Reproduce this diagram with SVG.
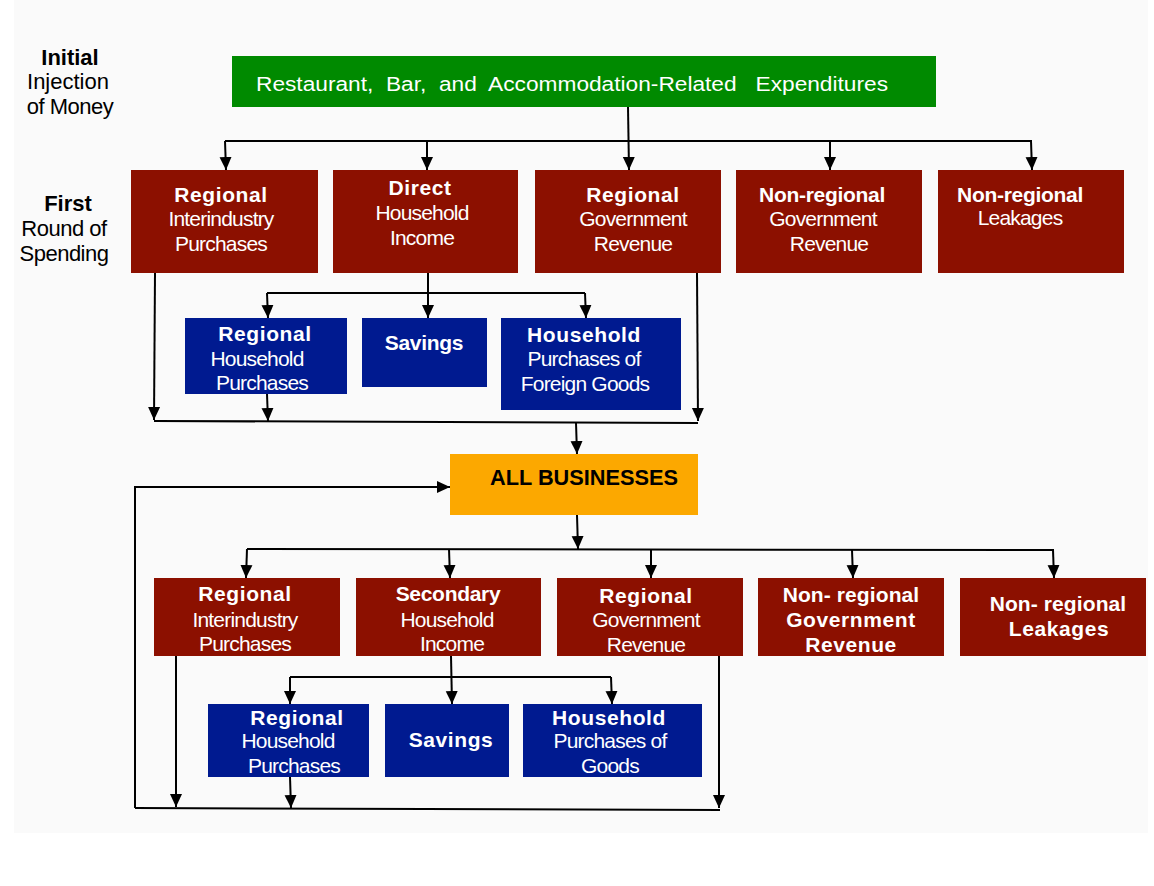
<svg xmlns="http://www.w3.org/2000/svg" width="1154" height="886" viewBox="0 0 1154 886">
<defs>
<marker id="ah" markerWidth="14" markerHeight="14" refX="13" refY="7" orient="auto" markerUnits="userSpaceOnUse" viewBox="0 0 14 14">
<path d="M0,1 L13,7 L0,13 Z" fill="#000"/>
</marker>
<style>
text{font-family:"Liberation Sans",Arial,sans-serif;font-size:21px;fill:#fff;text-anchor:middle}
.b{font-weight:bold;letter-spacing:0.6px}
.n{letter-spacing:-0.8px}
.nb{font-weight:bold;letter-spacing:-0.3px}
.lab{fill:#000;font-size:22px}
.red{fill:#8c1000}
.blue{fill:#001a90}
.ln{stroke:#000;stroke-width:2;fill:none}
.ar{stroke:#000;stroke-width:2;fill:none;marker-end:url(#ah)}
</style>
</defs>
<rect x="0" y="0" width="1154" height="886" fill="#fff"/>
<rect x="14" y="0" width="1134" height="833" fill="#fafafa"/>

<g id="labels">
<text class="lab" x="70" y="65" style="font-weight:bold">Initial</text>
<text class="lab" x="68" y="89">Injection</text>
<text class="lab" x="70" y="114" style="letter-spacing:-0.5px">of Money</text>
<text class="lab" x="68" y="211" style="font-weight:bold">First</text>
<text class="lab" x="64" y="236" style="letter-spacing:-0.5px">Round of</text>
<text class="lab" x="64" y="261" style="letter-spacing:-0.5px">Spending</text>
</g>

<g id="connectors">
<line class="ar" x1="628" y1="107" x2="629" y2="170"/>
<polyline class="ln" points="225,141 1032,141"/>
<line class="ar" x1="225" y1="141" x2="226" y2="170"/>
<line class="ar" x1="427" y1="141" x2="427" y2="170"/>
<line class="ar" x1="830" y1="141" x2="830" y2="170"/>
<line class="ar" x1="1031" y1="141" x2="1032" y2="170"/>
<line class="ar" x1="428" y1="273" x2="428" y2="318"/>
<polyline class="ln" points="267,293 585,293"/>
<line class="ar" x1="267" y1="293" x2="268" y2="318"/>
<line class="ar" x1="585" y1="293" x2="586" y2="318"/>
<line class="ar" x1="155" y1="273" x2="154" y2="420"/>
<line class="ar" x1="697" y1="273" x2="698" y2="421"/>
<line class="ar" x1="267" y1="394" x2="268" y2="421"/>
<polyline class="ln" points="154,421 698,423"/>
<line class="ar" x1="576" y1="423" x2="577" y2="454"/>
<polyline class="ar" points="135,808 135,487 450,487"/>
<line class="ar" x1="577" y1="515" x2="578" y2="549"/>
<polyline class="ln" points="247,549 1054,550"/>
<line class="ar" x1="247" y1="549" x2="246" y2="578"/>
<line class="ar" x1="449" y1="549" x2="450" y2="578"/>
<line class="ar" x1="651" y1="549" x2="651" y2="578"/>
<line class="ar" x1="852" y1="550" x2="853" y2="578"/>
<line class="ar" x1="1053" y1="550" x2="1054" y2="578"/>
<line class="ar" x1="451" y1="656" x2="452" y2="704"/>
<polyline class="ln" points="290,677 611,677"/>
<line class="ar" x1="290" y1="677" x2="290" y2="704"/>
<line class="ar" x1="611" y1="677" x2="612" y2="704"/>
<line class="ar" x1="176" y1="656" x2="176" y2="807"/>
<line class="ar" x1="719" y1="656" x2="719" y2="808"/>
<line class="ar" x1="290" y1="777" x2="291" y2="808"/>
<polyline class="ln" points="135,808 720,810"/>
</g>

<g id="n-injection">
<rect x="232" y="56" width="704" height="51" fill="#008a00"/>
<text x="572" y="91" style="font-size:20px" xml:space="preserve" textLength="632" lengthAdjust="spacingAndGlyphs">Restaurant,  Bar,  and  Accommodation-Related   Expenditures</text>
</g>

<g id="n-r1-interindustry">
<rect class="red" x="131" y="170" width="187" height="103"/>
<text class="b" x="221" y="202">Regional</text>
<text class="n" x="221" y="226">Interindustry</text>
<text class="n" x="221" y="251">Purchases</text>
</g>
<g id="n-r1-direct">
<rect class="red" x="333" y="170" width="185" height="103"/>
<text class="b" x="420" y="195">Direct</text>
<text class="n" x="422" y="220">Household</text>
<text class="n" x="422" y="245">Income</text>
</g>
<g id="n-r1-regional-gov">
<rect class="red" x="535" y="170" width="186" height="103"/>
<text class="b" x="633" y="202">Regional</text>
<text class="n" x="633" y="226">Government</text>
<text class="n" x="633" y="251">Revenue</text>
</g>
<g id="n-r1-nonregional-gov">
<rect class="red" x="736" y="170" width="186" height="103"/>
<text class="nb" x="822" y="202">Non-regional</text>
<text class="n" x="823" y="226">Government</text>
<text class="n" x="829" y="251">Revenue</text>
</g>
<g id="n-r1-leakages">
<rect class="red" x="938" y="170" width="186" height="103"/>
<text class="nb" x="1020" y="202">Non-regional</text>
<text class="n" x="1020" y="225">Leakages</text>
</g>

<g id="n-r1-regional-hh">
<rect class="blue" x="185" y="318" width="162" height="76"/>
<text class="b" x="265" y="341">Regional</text>
<text class="n" x="257" y="366">Household</text>
<text class="n" x="262" y="390">Purchases</text>
</g>
<g id="n-r1-savings">
<rect class="blue" x="362" y="318" width="125" height="69"/>
<text class="nb" x="424" y="350">Savings</text>
</g>
<g id="n-r1-foreign">
<rect class="blue" x="501" y="318" width="180" height="92"/>
<text class="b" x="584" y="342">Household</text>
<text class="n" x="584" y="366">Purchases of</text>
<text class="n" x="585" y="391">Foreign Goods</text>
</g>

<g id="n-all-businesses">
<rect x="450" y="454" width="248" height="61" fill="#fca800"/>
<text x="584" y="485" style="fill:#000;font-weight:bold;font-size:22px" textLength="188" lengthAdjust="spacingAndGlyphs">ALL BUSINESSES</text>
</g>

<g id="n-r2-interindustry">
<rect class="red" x="154" y="578" width="186" height="78"/>
<text class="b" x="245" y="601">Regional</text>
<text class="n" x="245" y="627">Interindustry</text>
<text class="n" x="245" y="651">Purchases</text>
</g>
<g id="n-r2-secondary">
<rect class="red" x="356" y="578" width="185" height="78"/>
<text class="nb" x="448" y="601">Secondary</text>
<text class="n" x="447" y="627">Household</text>
<text class="n" x="452" y="651">Income</text>
</g>
<g id="n-r2-regional-gov">
<rect class="red" x="557" y="578" width="186" height="78"/>
<text class="b" x="646" y="603">Regional</text>
<text class="n" x="646" y="627">Government</text>
<text class="n" x="646" y="652">Revenue</text>
</g>
<g id="n-r2-nonregional-gov">
<rect class="red" x="758" y="578" width="186" height="78"/>
<text class="b" x="851" y="602" style="letter-spacing:0.1px">Non- regional</text>
<text class="b" x="851" y="627">Government</text>
<text class="b" x="851" y="652">Revenue</text>
</g>
<g id="n-r2-leakages">
<rect class="red" x="960" y="578" width="186" height="78"/>
<text class="b" x="1058" y="611" style="letter-spacing:0.1px">Non- regional</text>
<text class="b" x="1059" y="636">Leakages</text>
</g>

<g id="n-r2-regional-hh">
<rect class="blue" x="208" y="704" width="161" height="73"/>
<text class="b" x="297" y="725">Regional</text>
<text class="n" x="288" y="748">Household</text>
<text class="n" x="294" y="773">Purchases</text>
</g>
<g id="n-r2-savings">
<rect class="blue" x="385" y="704" width="124" height="73"/>
<text class="b" x="451" y="747">Savings</text>
</g>
<g id="n-r2-goods">
<rect class="blue" x="523" y="704" width="179" height="73"/>
<text class="b" x="609" y="725">Household</text>
<text class="n" x="610" y="748">Purchases of</text>
<text class="n" x="610" y="773">Goods</text>
</g>
</svg>
